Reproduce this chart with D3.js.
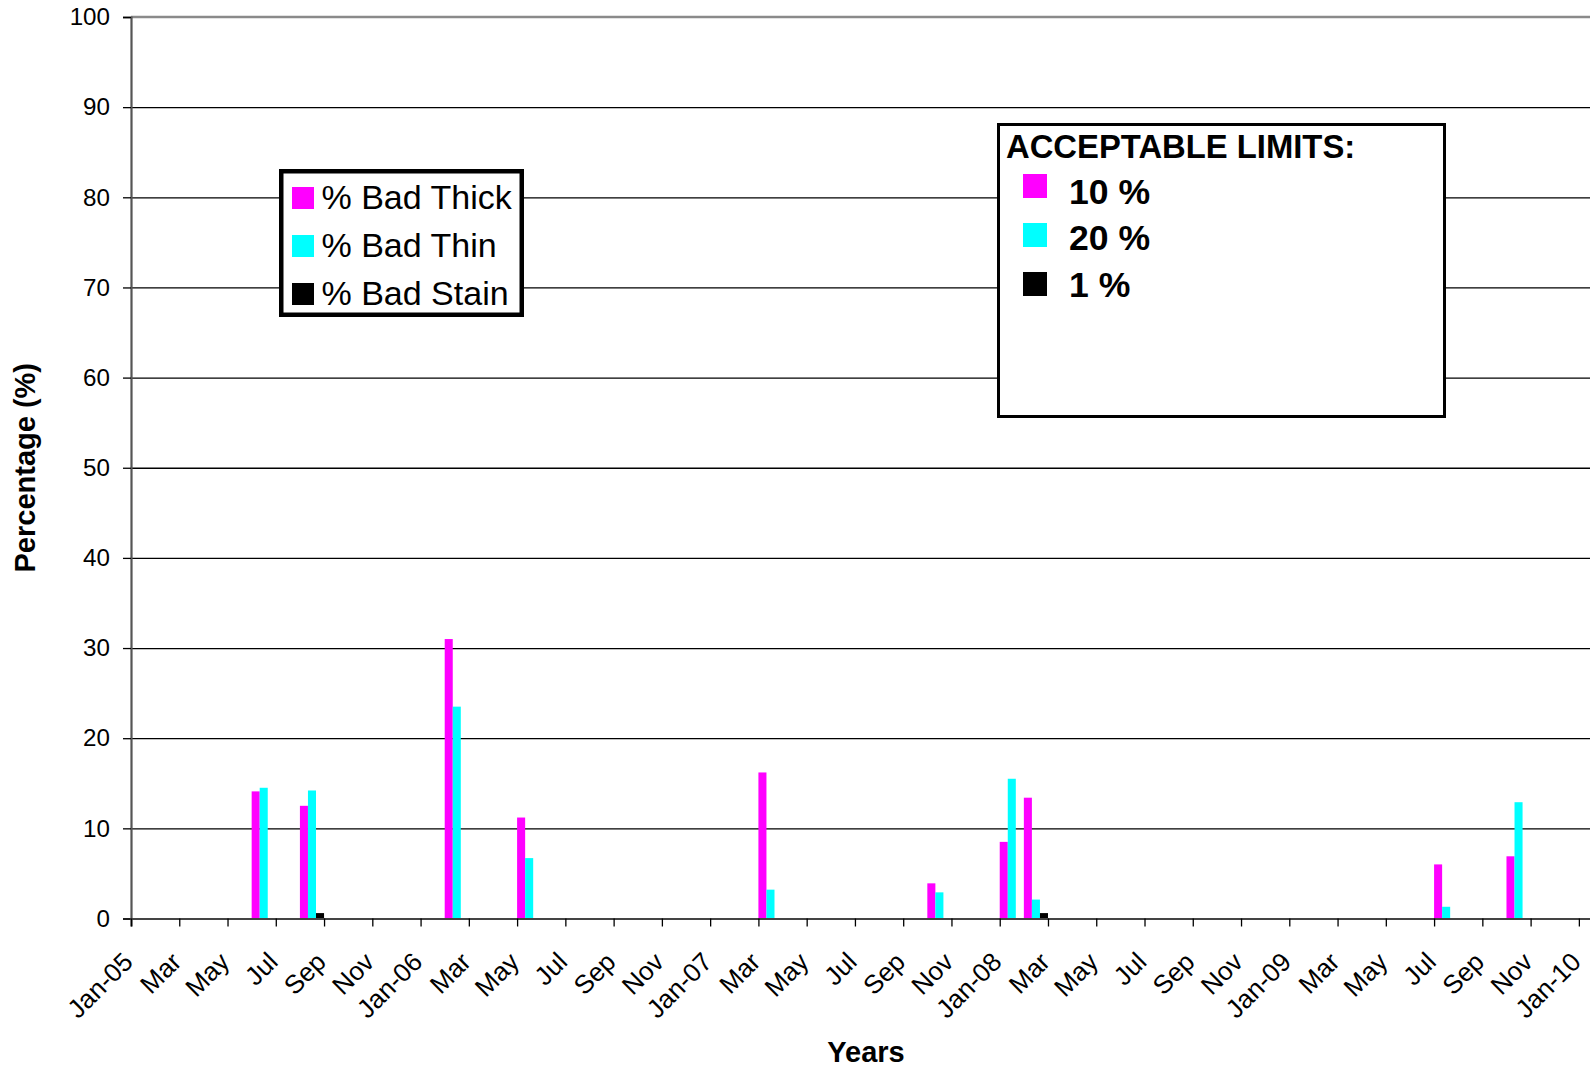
<!DOCTYPE html>
<html>
<head>
<meta charset="utf-8">
<script src="https://cdn.jsdelivr.net/npm/d3@7"></script>
<style>
  html, body { margin: 0; padding: 0; background: #fff; }
  svg { display: block; }
  text { font-family: "Liberation Sans", Arial, sans-serif; }
</style>
</head>
<body>
<svg id="chart" width="1590" height="1068"></svg>
<script>
// ---- data ----
const sampleMonths = ["2005-06","2005-08","2006-02","2006-05","2007-03","2007-10","2008-01","2008-02","2009-07","2009-10"];
const badThick = [14.1, 12.5, 31.0, 11.2, 16.2, 3.9, 8.5, 13.4, 6.0, 6.9];
const badThin  = [14.5, 14.2, 23.5, 6.7, 3.2, 2.9, 15.5, 2.1, 1.3, 12.9];
const badStain = [0, 0.6, 0, 0, 0, 0, 0, 0.6, 0, 0];
const seriesNames = ["% Bad Thick", "% Bad Thin", "% Bad Stain"];
const seriesColors = ["#FF00FF", "#00FFFF", "#000000"];
const xTickLabels = ["Jan-05","Mar","May","Jul","Sep","Nov","Jan-06","Mar","May","Jul","Sep","Nov",
  "Jan-07","Mar","May","Jul","Sep","Nov","Jan-08","Mar","May","Jul","Sep","Nov",
  "Jan-09","Mar","May","Jul","Sep","Nov","Jan-10"];
const yTicks = [0,10,20,30,40,50,60,70,80,90,100];
const limitTitle = "ACCEPTABLE LIMITS:";
const limitLabels = ["10 %", "20 %", "1 %"];

// ---- layout ----
const svg = d3.select("#chart");
const plotLeft = 131, plotTop = 17, plotBottom = 918.5;
const monthsSpan = 61; // Jan-05 .. Feb-10
const plotRight = 1603;

function monthIndex(s) {
  const [yy, mm] = s.split("-").map(Number);
  return (yy - 2005) * 12 + (mm - 1);
}

const x = d3.scaleLinear().domain([0, monthsSpan]).range([plotLeft, plotRight]);
const y = d3.scaleLinear().domain([0, 100]).range([plotBottom, plotTop]);
const inner = d3.scaleBand().domain(seriesNames).range([0, x(1) - x(0)]).padding(0);

// gridlines
svg.append("g")
  .attr("transform", `translate(${plotLeft},0)`)
  .call(d3.axisLeft(y).tickValues(yTicks.slice(1, -1)).tickSize(-(plotRight - plotLeft)).tickFormat(""))
  .call(g => g.select(".domain").remove())
  .call(g => g.selectAll("line").attr("stroke", "#000").attr("stroke-width", 1.3));

// top plot border (grey)
svg.append("line")
  .attr("x1", plotLeft).attr("x2", plotRight)
  .attr("y1", y(100)).attr("y2", y(100))
  .attr("stroke", "#8a8a8a").attr("stroke-width", 2.5);

// bars
const rows = sampleMonths.map((m, i) => ({ m: monthIndex(m), vals: [badThick[i], badThin[i], badStain[i]] }));
const groups = svg.append("g").selectAll("g").data(rows).join("g")
  .attr("transform", d => `translate(${x(d.m)},0)`);
groups.selectAll("rect")
  .data(d => d.vals.map((v, k) => ({ v, k })))
  .join("rect")
  .attr("x", d => inner(seriesNames[d.k]))
  .attr("width", inner.bandwidth())
  .attr("y", d => y(d.v))
  .attr("height", d => y(0) - y(d.v))
  .attr("fill", d => seriesColors[d.k]);

// y axis
svg.append("g")
  .attr("transform", `translate(${plotLeft},0)`)
  .call(d3.axisLeft(y).tickValues(yTicks).tickSize(8).tickPadding(13))
  .call(g => g.select(".domain").attr("stroke", "#555").attr("stroke-width", 2.2))
  .call(g => g.selectAll(".tick line").attr("stroke", "#000").attr("stroke-width", 1.3))
  .call(g => g.selectAll("text").attr("font-size", 24.2).attr("fill", "#000")
    .attr("font-family", "'Liberation Sans', Arial, sans-serif"));

// x axis
const xTickVals = xTickLabels.map((_, i) => i * 2);
const xAxis = svg.append("g")
  .attr("transform", `translate(0,${plotBottom})`)
  .call(d3.axisBottom(x).tickValues(xTickVals).tickSize(8).tickFormat((d, i) => xTickLabels[i]))
  .call(g => g.select(".domain").attr("stroke", "#444").attr("stroke-width", 2.2))
  .call(g => g.selectAll(".tick line").attr("stroke", "#000").attr("stroke-width", 1.3));
xAxis.selectAll(".tick text")
  .attr("font-size", 26)
  .attr("fill", "#000")
  .attr("font-family", "'Liberation Sans', Arial, sans-serif")
  .attr("text-anchor", "end")
  .attr("dy", 0)
  .attr("y", 0)
  .attr("transform", "translate(3,45) rotate(-45)");

// axis titles
svg.append("text")
  .attr("x", 866).attr("y", 1061.5)
  .attr("text-anchor", "middle")
  .attr("font-size", 29).attr("font-weight", "bold")
  .text("Years");
svg.append("text")
  .attr("transform", `translate(35,${(plotTop + plotBottom) / 2}) rotate(-90)`)
  .attr("text-anchor", "middle")
  .attr("font-size", 29).attr("font-weight", "bold")
  .text("Percentage (%)");

// series legend
const lg = svg.append("g");
lg.append("rect")
  .attr("x", 281.25).attr("y", 171.25).attr("width", 240.5).attr("height", 143.5)
  .attr("fill", "#fff").attr("stroke", "#000").attr("stroke-width", 4.5);
seriesNames.forEach((n, i) => {
  lg.append("rect").attr("x", 292).attr("y", 187 + i * 48).attr("width", 22).attr("height", 22)
    .attr("fill", seriesColors[i]);
  lg.append("text").attr("x", 321.5).attr("y", 208.7 + i * 48)
    .attr("font-size", 34).attr("fill", "#000").text(n);
});

// acceptable limits box
const lb = svg.append("g");
lb.append("rect")
  .attr("x", 998.5).attr("y", 124.5).attr("width", 446).attr("height", 292)
  .attr("fill", "#fff").attr("stroke", "#000").attr("stroke-width", 3);
lb.append("text").attr("x", 1006).attr("y", 157.7)
  .attr("font-size", 32.8).attr("font-weight", "bold").text(limitTitle);
limitLabels.forEach((t, i) => {
  lb.append("rect").attr("x", 1023).attr("y", 174 + i * 49).attr("width", 24).attr("height", 24)
    .attr("fill", seriesColors[i]);
  lb.append("text").attr("x", 1069).attr("y", 204 + i * 46.3)
    .attr("font-size", 35.6).attr("font-weight", "bold").text(t);
});
</script>
</body>
</html>
